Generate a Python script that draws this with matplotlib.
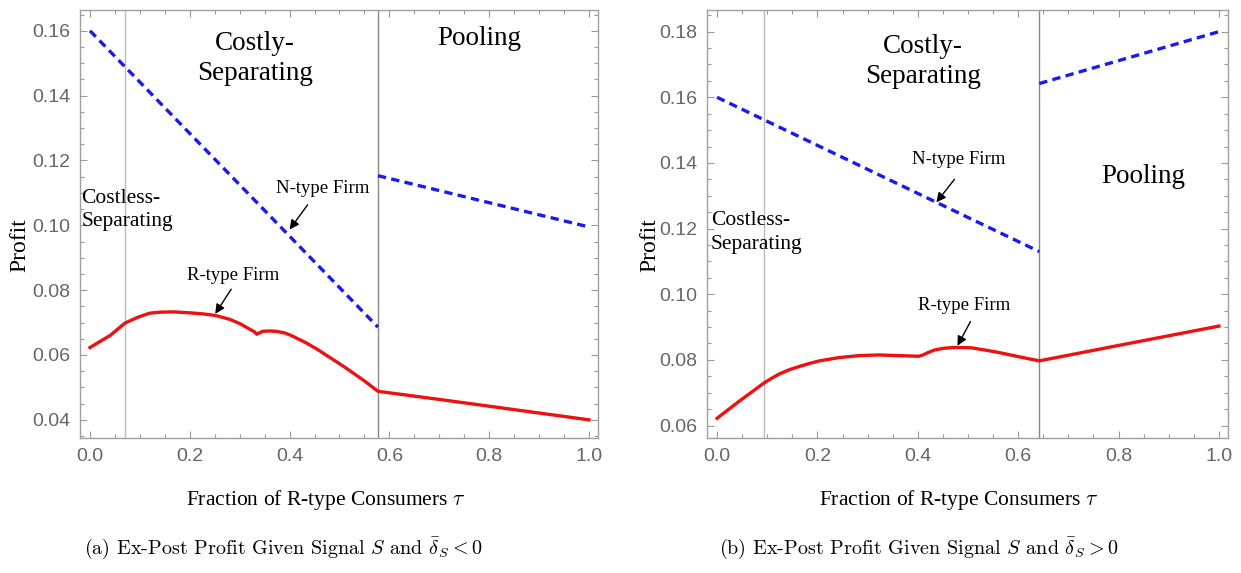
import matplotlib.pyplot as plt
from matplotlib.ticker import MultipleLocator, FormatStrFormatter

plt.rcParams['mathtext.fontset'] = 'cm'

# ---- datos ----
# (a) delta_S < 0
a_cortes = [0.0697, 0.577]
a_n_sep_tau = [0.0, 0.577]
a_n_sep = [0.160, 0.0686]
a_n_pool_tau = [0.577, 1.0]
a_n_pool = [0.1153, 0.0995]
a_r_tau = [0.0, 0.041, 0.0697, 0.085, 0.097, 0.110, 0.120, 0.140, 0.168, 0.200, 0.225, 0.251,
           0.280, 0.300, 0.330, 0.334, 0.346, 0.360, 0.374, 0.390, 0.402, 0.430, 0.453, 0.480,
           0.509, 0.550, 0.577, 0.700, 0.800, 0.900, 1.0]
a_r = [0.0623, 0.0661, 0.0698, 0.0709, 0.0717, 0.0724, 0.0729, 0.0732, 0.0733, 0.0730, 0.0727,
       0.0722, 0.0710, 0.0697, 0.0671, 0.0664, 0.0673, 0.0674, 0.0673, 0.0668, 0.0661, 0.0640,
       0.0620, 0.0593, 0.0564, 0.0520, 0.0488, 0.0463, 0.0442, 0.0421, 0.0400]

# (b) delta_S > 0
b_cortes = [0.094, 0.642]
b_n_sep_tau = [0.0, 0.642]
b_n_sep = [0.160, 0.113]
b_n_pool_tau = [0.642, 1.0]
b_n_pool = [0.1642, 0.180]
b_r_tau = [0.0, 0.045, 0.094, 0.110, 0.124, 0.144, 0.164, 0.184, 0.204, 0.243, 0.283, 0.322,
           0.362, 0.402, 0.410, 0.420, 0.433, 0.450, 0.473, 0.505, 0.530, 0.560, 0.600, 0.642,
           0.800, 1.0]
b_r = [0.0622, 0.0675, 0.0730, 0.0745, 0.0757, 0.0770, 0.0780, 0.0789, 0.0797, 0.0807, 0.0813,
       0.0815, 0.0813, 0.0811, 0.0815, 0.0822, 0.0830, 0.0835, 0.0838, 0.0837, 0.0831, 0.0823,
       0.0810, 0.0797, 0.0844, 0.0903]

W, H = 1241, 573
fig = plt.figure(figsize=(W / 100, H / 100), dpi=100)

def caja(x0, x1, y0, y1):
    return [x0 / W, 1 - y1 / H, (x1 - x0) / W, (y1 - y0) / H]

ax1 = fig.add_axes(caja(80, 598, 10, 438))
ax2 = fig.add_axes(caja(707, 1228, 10, 438))

azul = '#1a1aee'
rojo = '#ee1111'
serif = ['Liberation Serif', 'DejaVu Serif']
sans = ['Liberation Sans Narrow', 'Liberation Sans', 'DejaVu Sans']

def graficar(ax, cortes, n1t, n1, n2t, n2, rt, r, ylim, ymaj):
    ax.axvline(cortes[0], color='#bbbbbb', lw=1.0, zorder=1)
    ax.axvline(cortes[1], color='#888888', lw=1.0, zorder=1)
    for t, v in [(n1t, n1), (n2t, n2)]:
        ax.plot(t, v, color=azul, lw=2.4, dashes=(2.5, 1.6), zorder=3)
    ax.plot(rt, r, color=rojo, lw=2.4, zorder=3, solid_joinstyle='round')
    ax.set_xlim(-0.02, 1.018)
    ax.set_ylim(*ylim)
    ax.xaxis.set_major_locator(MultipleLocator(0.2))
    ax.xaxis.set_minor_locator(MultipleLocator(0.05))
    ax.yaxis.set_major_locator(MultipleLocator(ymaj))
    ax.yaxis.set_minor_locator(MultipleLocator(0.005))
    ax.xaxis.set_major_formatter(FormatStrFormatter('%.1f'))
    ax.yaxis.set_major_formatter(FormatStrFormatter('%.2f'))
    ax.tick_params(which='both', direction='in', top=True, right=True,
                   color='#999999', width=0.8)
    ax.tick_params(which='major', length=5, labelsize=14, labelcolor='#666666', pad=7)
    ax.tick_params(which='minor', length=3)
    for lab in ax.get_xticklabels() + ax.get_yticklabels():
        lab.set_family(sans)
    for s in ax.spines.values():
        s.set_color('#a0a0a0')
        s.set_linewidth(1.0)

graficar(ax1, a_cortes, a_n_sep_tau, a_n_sep, a_n_pool_tau, a_n_pool,
         a_r_tau, a_r, (0.0344, 0.1664), 0.02)
graficar(ax2, b_cortes, b_n_sep_tau, b_n_sep, b_n_pool_tau, b_n_pool,
         b_r_tau, b_r, (0.0562, 0.1866), 0.02)

# textos de las regiones
ax1.text(0.33, 0.1514, 'Costly-\nSeparating', family=serif, fontsize=19.5,
         ha='center', va='center', linespacing=1.25)
ax1.text(0.78, 0.1575, 'Pooling', family=serif, fontsize=19.5, ha='center', va='center')
ax1.text(-0.017, 0.1048, 'Costless-\nSeparating', family=serif, fontsize=15.5,
         ha='left', va='center', linespacing=1.3)
ax1.text(0.466, 0.1113, 'N-type Firm', family=serif, fontsize=13.5, ha='center', va='center')
ax1.text(0.286, 0.0845, 'R-type Firm', family=serif, fontsize=13.5, ha='center', va='center')
flecha = dict(arrowstyle='-|>', color='black', lw=1.0, mutation_scale=14, shrinkA=0, shrinkB=0)
ax1.annotate('', xy=(0.40, 0.0987), xytext=(0.436, 0.1063), arrowprops=flecha)
ax1.annotate('', xy=(0.251, 0.0727), xytext=(0.283, 0.0803), arrowprops=flecha)

ax2.text(0.41, 0.171, 'Costly-\nSeparating', family=serif, fontsize=19.5,
         ha='center', va='center', linespacing=1.25)
ax2.text(0.85, 0.136, 'Pooling', family=serif, fontsize=19.5, ha='center', va='center')
ax2.text(-0.012, 0.1188, 'Costless-\nSeparating', family=serif, fontsize=15.5,
         ha='left', va='center', linespacing=1.3)
ax2.text(0.481, 0.141, 'N-type Firm', family=serif, fontsize=13.5, ha='center', va='center')
ax2.text(0.493, 0.0967, 'R-type Firm', family=serif, fontsize=13.5, ha='center', va='center')
ax2.annotate('', xy=(0.437, 0.128), xytext=(0.473, 0.135), arrowprops=flecha)
ax2.annotate('', xy=(0.479, 0.0843), xytext=(0.505, 0.0917), arrowprops=flecha)

# etiquetas de ejes
for xc, yc in [(326, 500), (959, 500)]:
    fig.text(xc / W, 1 - yc / H, r'Fraction of R-type Consumers $\tau$', family=serif,
             fontsize=15.5, ha='center', va='center')
for xc in [20, 650]:
    fig.text(xc / W, 1 - 245 / H, 'Profit', family=serif, fontsize=17,
             rotation=90, ha='center', va='center')

# leyendas al pie
fig.text(283 / W, 1 - 548 / H, r'$\text{(a) Ex-Post Profit Given Signal }S\text{ and }\bar{\delta}_S<0$',
         fontsize=14.5, ha='center', va='center')
fig.text(919 / W, 1 - 548 / H, r'$\text{(b) Ex-Post Profit Given Signal }S\text{ and }\bar{\delta}_S>0$',
         fontsize=14.5, ha='center', va='center')

fig.savefig('out.png', dpi=100)
